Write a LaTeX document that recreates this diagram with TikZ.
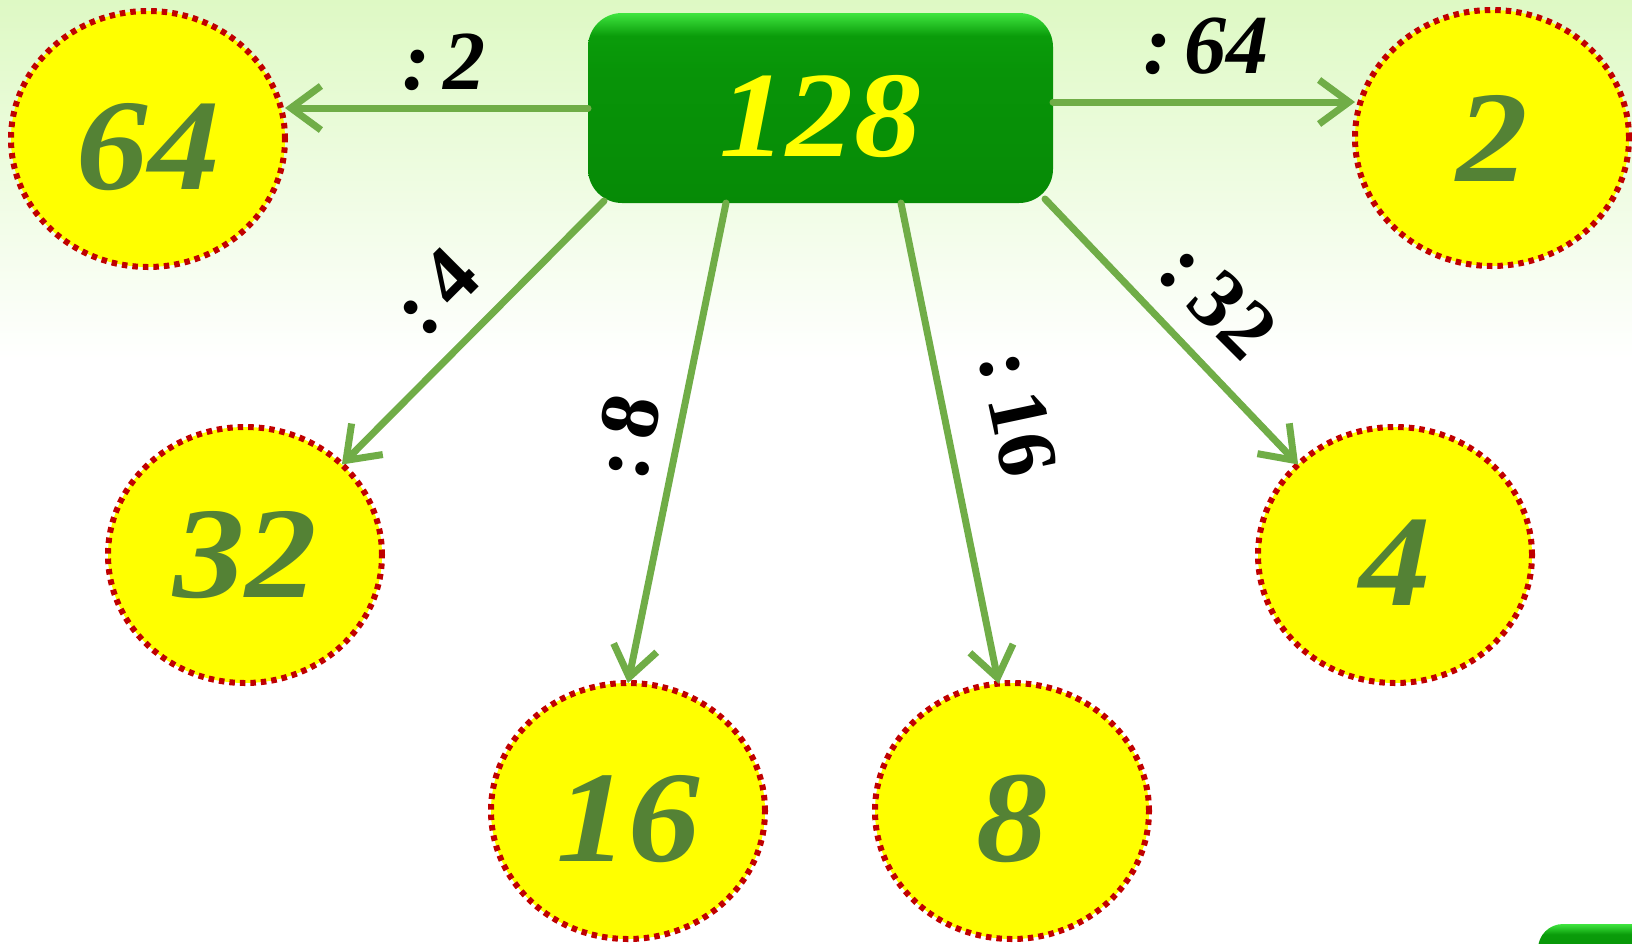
\documentclass[tikz,border=0pt]{standalone}
\usepackage{fontspec}
\setmainfont{Liberation Serif}
\newfontfamily\numfont[FakeStretch=1.1]{Liberation Serif}
\usetikzlibrary{arrows.meta,calc,shapes.geometric}
\definecolor{numgreen}{HTML}{548235}
\definecolor{arrgreen}{HTML}{70AD47}
\definecolor{dotred}{HTML}{C00000}
\definecolor{bgtop}{HTML}{DEF9C4}
\definecolor{pureyellow}{RGB}{255,255,0}
\definecolor{gtop}{HTML}{3FE53F}
\definecolor{gmid}{HTML}{0A9C0A}
\definecolor{gmidb}{HTML}{089408}
\definecolor{gbot}{HTML}{068A06}
\pgfdeclareverticalshading{boxshade}{100bp}{color(0bp)=(gbot); color(25bp)=(gbot); color(60bp)=(gmidb); color(69bp)=(gmid); color(75bp)=(gtop); color(100bp)=(gtop)}
\tikzset{
  numcircle/.style={ellipse, fill=pureyellow, draw=dotred, line width=6pt,
    dash pattern=on 5.5pt off 5pt, minimum width=274pt, minimum height=256pt,
    inner sep=0pt, outer sep=0pt, text=numgreen,
    font=\fontsize{130}{130}\selectfont\numfont\bfseries\itshape},
  lowtext/.style={text height=100pt, text depth=0pt},
  arr/.style={draw=arrgreen, line width=7pt, line cap=round,
    -{Straight Barb[length=30pt,width=44pt,line width=7pt]}},
  lblit/.style={font=\fontsize{84}{84}\selectfont\bfseries\itshape, text=black, inner sep=0pt},
  lblup/.style={font=\fontsize{84}{84}\selectfont\bfseries, text=black, inner sep=0pt}
}
\begin{document}
\begin{tikzpicture}[x=1pt,y=-1pt]
\useasboundingbox (0,0) rectangle (1632,943);
% background
\fill[white] (0,0) rectangle (1632,943);
\shade[top color=bgtop, bottom color=white] (0,0) rectangle (1632,360);
% bottom-right partial box
\begin{scope}
\clip (0,0) rectangle (1632,943);
\shade[shading=boxshade, rounded corners=25pt] (1538,924) rectangle (1720,1010);
\end{scope}
% central box
\node[draw=none, minimum width=465pt, minimum height=190pt, inner sep=0pt, outer sep=0pt,
  rounded corners=34pt, shading=boxshade, text=pureyellow, text height=97pt, text depth=0pt,
  font=\fontsize{122}{122}\selectfont\numfont\bfseries\itshape] (box) at (820.5,108) {128};
% circles
\node[numcircle, lowtext] (c64) at (148,139) {64};
\node[numcircle] (c2) at (1492,138) {2};
\node[numcircle] (c32) at (245,555) {32};
\node[numcircle, lowtext] (c4) at (1395,555) {4};
\node[numcircle, lowtext] (c16) at (628,811) {16};
\node[numcircle, lowtext] (c8) at (1012,811) {8};
% arrows
\coordinate (s32) at ($(box.south west)+(16,-2)$);
\coordinate (s16) at ($(box.south west)+(138,0)$);
\coordinate (s8) at ($(box.south west)+(313,0)$);
\coordinate (s4) at ($(box.south east)+(-8,-4)$);
\draw[arr] (box.west) -- (box.west -| c64.east);
\draw[arr] ([yshift=6pt]box.east) -- ([yshift=6pt]box.east -| c2.west);
\draw[arr] (s32) -- (c32.north east);
\draw[arr] (s16) -- (c16.north);
\draw[arr] (s8) -- (c8.96);
\draw[arr] (s4) -- (c4.north west);
% labels
\node[lblit] (l2) at (444,62) {:\,2};
\node[lblit] (l64) at (1206,46) {:\,64};
\node[lblup, rotate=45] (l4) at (435,292) {:\,4};
\node[lblup, rotate=79] (l8) at (627,437) {:\,8};
\node[lblup, rotate=-78] (l16) at (1018,413) {:\,16};
\node[lblup, rotate=-45] (l32) at (1218,300) {:\,32};
\end{tikzpicture}
\end{document}
